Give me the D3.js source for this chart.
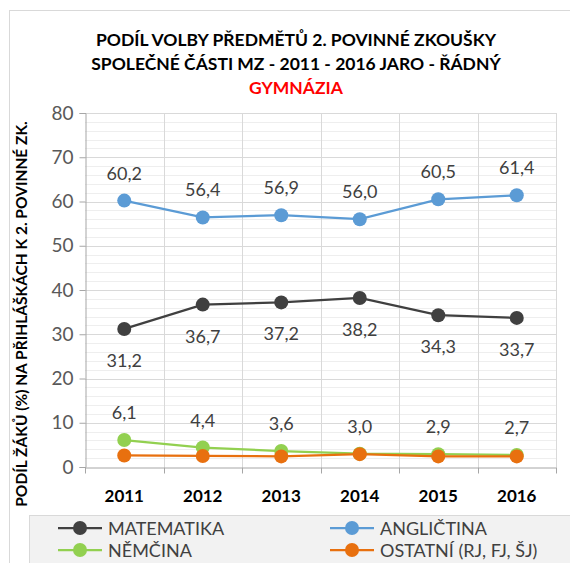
<!DOCTYPE html>
<html lang="cs">
<head>
<meta charset="UTF-8">
<title>Podíl volby předmětů</title>
<script src="https://d3js.org/d3.v7.min.js"></script>
<style>
  body { margin: 0; padding: 0; background: #fff; }
  svg { display: block; font-family: Lato, "Open Sans", sans-serif; }
</style>
</head>
<body>
<svg width="570" height="563"></svg>
<script>
const years = ["2011", "2012", "2013", "2014", "2015", "2016"];
const matematika = [31.2, 36.7, 37.2, 38.2, 34.3, 33.7];
const anglictina = [60.2, 56.4, 56.9, 56.0, 60.5, 61.4];
const nemcina = [6.1, 4.4, 3.6, 3.0, 2.9, 2.7];
const ostatni = [2.6, 2.5, 2.4, 2.9, 2.4, 2.4];
const yTicks = [0, 10, 20, 30, 40, 50, 60, 70, 80];

const series = [
  { name: "MATEMATIKA", values: matematika, color: "#404040", label: "below" },
  { name: "ANGLIČTINA", values: anglictina, color: "#5b9bd5", label: "above" },
  { name: "NĚMČINA", values: nemcina, color: "#92d050", label: "above" },
  { name: "OSTATNÍ (RJ, FJ, ŠJ)", values: ostatni, color: "#e8700f", label: null }
];

const svg = d3.select("svg");

// outer frame
svg.append("rect")
   .attr("x", 9.5).attr("y", 10.5)
   .attr("width", 600).attr("height", 600)
   .attr("fill", "#fff")
   .attr("stroke", "#d9d9d9");

const x = d3.scaleBand().domain(years).range([85, 556]);
const y = d3.scaleLinear().domain([0, 80]).range([467, 113]);

// minor gridlines
svg.append("g").selectAll("line")
   .data(d3.range(2, 80, 2).filter(v => v % 10 !== 0))
   .enter().append("line")
   .attr("x1", 85).attr("x2", 556)
   .attr("y1", d => Math.round(y(d)) + 0.5)
   .attr("y2", d => Math.round(y(d)) + 0.5)
   .attr("stroke", "#eeeeee");

// major gridlines
svg.append("g").selectAll("line")
   .data(yTicks.slice(1))
   .enter().append("line")
   .attr("x1", 85).attr("x2", 556)
   .attr("y1", d => Math.round(y(d)) + 0.5)
   .attr("y2", d => Math.round(y(d)) + 0.5)
   .attr("stroke", "#d9d9d9");

// vertical gridlines at category boundaries
svg.append("g").selectAll("line")
   .data(years.slice(1).concat(["end"]))
   .enter().append("line")
   .attr("x1", (d, i) => Math.round(x(years[0]) + x.bandwidth() * (i + 1)) + 0.5)
   .attr("x2", (d, i) => Math.round(x(years[0]) + x.bandwidth() * (i + 1)) + 0.5)
   .attr("y1", y(80)).attr("y2", y(0))
   .attr("stroke", "#d9d9d9");

// y axis
const yAxis = svg.append("g")
   .attr("transform", "translate(85.5,0)")
   .call(d3.axisLeft(y).tickValues(yTicks).tickSize(6).tickPadding(6));
yAxis.select(".domain").attr("stroke", "#a6a6a6");
yAxis.selectAll(".tick line").attr("stroke", "#a6a6a6");
yAxis.selectAll("text")
   .attr("fill", "#595959")
   .attr("font-size", "19px")
   .attr("font-family", "Lato, sans-serif");

// x axis
const xAxis = svg.append("g")
   .attr("transform", "translate(0,467.5)")
   .call(d3.axisBottom(x).tickSize(0).tickPadding(22));
xAxis.select(".domain").attr("stroke", "#a6a6a6");
xAxis.selectAll("text")
   .attr("fill", "#000")
   .attr("font-size", "17px")
   .attr("font-weight", "bold")
   .attr("font-family", "Lato, sans-serif");
xAxis.selectAll(".bnd")
   .data(d3.range(years.length + 1))
   .enter().append("line")
   .attr("x1", i => Math.round(85 + x.bandwidth() * i) + 0.5)
   .attr("x2", i => Math.round(85 + x.bandwidth() * i) + 0.5)
   .attr("y1", 0).attr("y2", 6)
   .attr("stroke", "#a6a6a6");

// lines, markers, labels
const line = d3.line()
   .x((d, i) => x(years[i]) + x.bandwidth() / 2)
   .y(d => y(d));

series.forEach(s => {
  const g = svg.append("g");
  g.append("path")
   .datum(s.values)
   .attr("d", line)
   .attr("fill", "none")
   .attr("stroke", s.color)
   .attr("stroke-width", 2.25);
  g.selectAll("circle")
   .data(s.values)
   .enter().append("circle")
   .attr("cx", (d, i) => x(years[i]) + x.bandwidth() / 2)
   .attr("cy", d => y(d))
   .attr("r", 7)
   .attr("fill", s.color);
  if (s.label) {
    g.selectAll("text")
     .data(s.values)
     .enter().append("text")
     .attr("x", (d, i) => x(years[i]) + x.bandwidth() / 2)
     .attr("y", d => s.label === "above" ? y(d) - 21 : y(d) + 38)
     .attr("text-anchor", "middle")
     .attr("font-size", "18px")
     .attr("fill", "#404040")
     .text(d => d.toFixed(1).replace(".", ","));
  }
});

// title
const title = svg.append("text")
   .attr("text-anchor", "middle")
   .attr("font-size", "17.5px")
   .attr("font-weight", "bold")
   .attr("fill", "#000");
title.append("tspan").attr("x", 296).attr("y", 46).text("PODÍL VOLBY PŘEDMĚTŮ 2. POVINNÉ ZKOUŠKY");
title.append("tspan").attr("x", 296).attr("y", 70).text("SPOLEČNÉ ČÁSTI MZ - 2011 - 2016 JARO - ŘÁDNÝ");
title.append("tspan").attr("x", 296).attr("y", 94).attr("fill", "#ff0000").text("GYMNÁZIA");

// y axis title
svg.append("text")
   .attr("transform", "translate(27,314) rotate(-90)")
   .attr("text-anchor", "middle")
   .attr("font-size", "15.5px")
   .attr("font-weight", "bold")
   .attr("fill", "#000")
   .text("PODÍL ŽÁKŮ (%) NA PŘIHLÁŠKÁCH K 2. POVINNÉ ZK.");

// legend
svg.append("rect")
   .attr("x", 29.5).attr("y", 515.5)
   .attr("width", 600).attr("height", 100)
   .attr("fill", "#f2f2f2")
   .attr("stroke", "#d9d9d9");

const legendPos = [[58, 528], [330, 528], [58, 550], [330, 550]];
series.forEach((s, i) => {
  const [lx, ly] = legendPos[i];
  const g = svg.append("g").attr("transform", `translate(${lx},${ly})`);
  g.append("line").attr("x1", 0).attr("x2", 44).attr("y1", 0).attr("y2", 0)
   .attr("stroke", s.color).attr("stroke-width", 2.25);
  g.append("circle").attr("cx", 22).attr("cy", 0).attr("r", 7).attr("fill", s.color);
  g.append("text").attr("x", 50).attr("y", 7)
   .attr("font-size", "18px")
   .attr("fill", "#404040")
   .text(s.name);
});
</script>
</body>
</html>
